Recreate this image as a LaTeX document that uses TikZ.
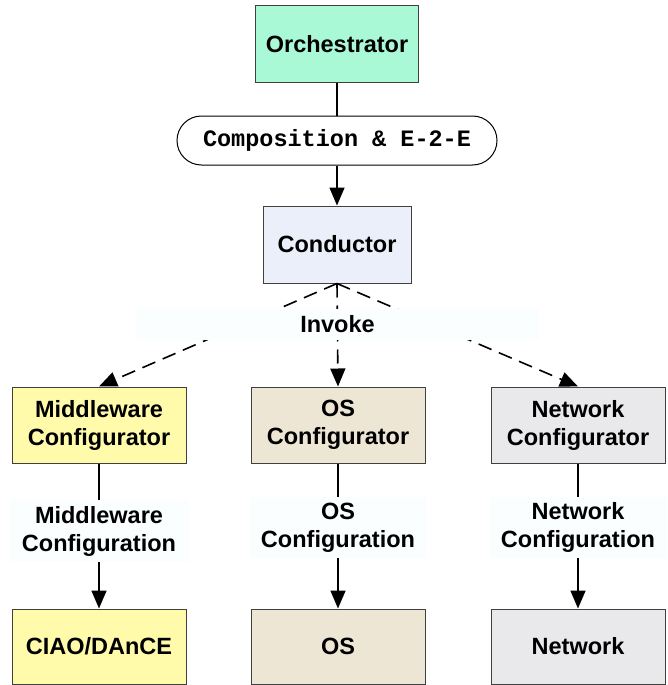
\documentclass[tikz,border=0pt]{standalone}
\usepackage{fontspec}
\setmainfont{Liberation Sans}
\setmonofont{Liberation Mono}
\usetikzlibrary{arrows.meta}
\definecolor{orchfill}{RGB}{169,249,215}
\definecolor{condfill}{RGB}{235,239,249}
\definecolor{mwfill}{RGB}{255,251,170}
\definecolor{osfill}{RGB}{237,230,213}
\definecolor{netfill}{RGB}{233,232,234}
\definecolor{labfill}{RGB}{250,254,255}
\definecolor{boxline}{RGB}{64,64,64}
\tikzset{
  box/.style={draw=boxline, line width=1pt, align=center, inner sep=0pt,
    font=\fontsize{23.5}{28}\selectfont\bfseries},
  lab/.style={fill=labfill, draw=none, align=center, inner sep=0pt,
    font=\fontsize{23.5}{28}\selectfont\bfseries},
  conn/.style={line width=1.6pt, draw=black},
  arr/.style={conn, -{Triangle[width=15pt,length=18pt]}},
  darr/.style={arr, dash pattern=on 14pt off 8pt},
}
\begin{document}
\begin{tikzpicture}[x=1pt,y=-1pt]
\useasboundingbox (0,0) rectangle (667,685);
% boxes
\node[box, fill=orchfill, minimum width=163pt, minimum height=76pt] (orch) at (337,44) {Orchestrator};
\node[draw=black, line width=1pt, fill=white, rounded corners=24.5pt, minimum width=320pt, minimum height=49pt, inner sep=0pt,
  font=\fontsize{23.5}{28}\selectfont\ttfamily\bfseries] (comp) at (337,140.5) {Composition \& E-2-E};
\node[box, fill=condfill, minimum width=148pt, minimum height=77pt] (cond) at (337,244.5) {Conductor};
\node[box, fill=mwfill, minimum width=174pt, minimum height=76pt] (mwc) at (99,425) {Middleware\\Configurator};
\node[box, fill=osfill, minimum width=174pt, minimum height=76pt] (osc) at (338,425) {OS\\Configurator};
\node[box, fill=netfill, minimum width=174pt, minimum height=76pt] (nwc) at (578,425) {Network\\Configurator};
\node[box, fill=mwfill, minimum width=174pt, minimum height=75pt] (ciao) at (99,646.5) {CIAO/DAnCE};
\node[box, fill=osfill, minimum width=174pt, minimum height=75pt] (os) at (338,646.5) {OS};
\node[box, fill=netfill, minimum width=174pt, minimum height=75pt] (net) at (578,646.5) {Network};
% labels on vertical connectors
\node[lab, minimum width=179pt, minimum height=62pt] (mwlab) at (99,531) {Middleware\\Configuration};
\node[lab, minimum width=177pt, minimum height=61pt] (oslab) at (338,527.5) {OS\\Configuration};
\node[lab, minimum width=177pt, minimum height=61pt] (nwlab) at (578,527.5) {Network\\Configuration};
% connectors
\draw[conn] (orch.south) -- (comp.north);
\draw[arr] (comp.south) -- (cond.north);
\draw[darr] (cond.south) -- (mwc.north);
\draw[darr] (cond.south) -- (osc.north);
\draw[darr] (cond.south) -- (nwc.north);
\draw[conn] (mwc.south) -- (mwlab.north);
\draw[arr] (mwlab.south) -- (ciao.north);
\draw[conn] (osc.south) -- (oslab.north);
\draw[arr] (oslab.south) -- (os.north);
\draw[conn] (nwc.south) -- (nwlab.north);
\draw[arr] (nwlab.south) -- (net.north);
% invoke label over dashed connectors
\node[lab, minimum width=403pt, minimum height=31pt] (invoke) at (337.5,324.5) {Invoke};
\end{tikzpicture}
\end{document}
